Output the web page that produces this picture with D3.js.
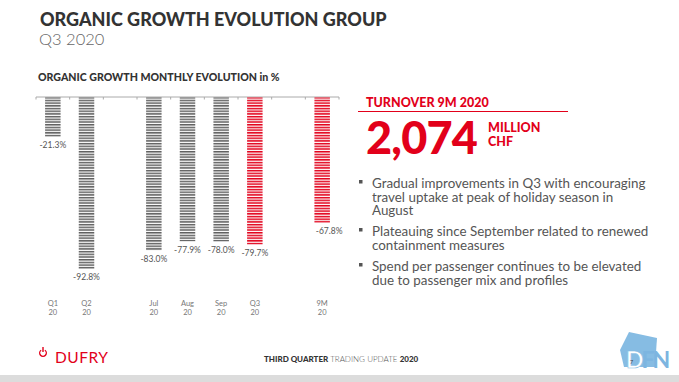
<!DOCTYPE html>
<html><head><meta charset="utf-8">
<script src="https://cdn.jsdelivr.net/npm/d3@7"></script>
<style>
html,body{margin:0;padding:0;background:#fff;}
svg{display:block;font-family:Lato, "Open Sans", sans-serif;}
</style></head>
<body><svg id="c" width="679" height="382"></svg>
<script>
const categories = ["Q1","Q2","Jul","Aug","Sep","Q3","9M"];
const years = ["20","20","20","20","20","20","20"];
const values = [-21.3,-92.8,-83.0,-77.9,-78.0,-79.7,-67.8];
const highlighted = ["Q3","9M"];
const slots = ["Q1","Q2","gapA","Jul","Aug","Sep","Q3","gapB","9M"];
const bullets = [
  ["Gradual improvements in Q3 with encouraging","travel uptake at peak of holiday season in","August"],
  ["Plateauing since September related to renewed","containment measures"],
  ["Spend per passenger continues to be elevated","due to passenger mix and profiles"]
];

const svg = d3.select("#c");
const RED = "#e2001a", GRAY = "#5e5e5e";

// patterns
const defs = svg.append("defs");
[["stripeGray",GRAY],["stripeRed",RED]].forEach(([id,col])=>{
  const p = defs.append("pattern").attr("id",id).attr("patternUnits","userSpaceOnUse")
    .attr("width",4).attr("height",2.7).attr("y",97);
  p.append("rect").attr("x",0).attr("y",0).attr("width",4).attr("height",1.5).attr("fill",col);
});

// titles
svg.append("text").attr("x",40).attr("y",26).attr("font-size",18).attr("font-weight",900)
  .attr("fill","#333").text("ORGANIC GROWTH EVOLUTION GROUP");
svg.append("text").attr("x",39).attr("y",45).attr("font-size",16.5).attr("font-weight",300)
  .attr("fill","#666").text("Q3 2020");
svg.append("text").attr("x",38).attr("y",81).attr("font-size",10.6).attr("font-weight",900)
  .attr("fill","#333").text("ORGANIC GROWTH MONTHLY EVOLUTION in %");

// scales
const x = d3.scaleBand().domain(slots).range([36,339]).paddingInner(0.54).paddingOuter(0.27);
const y = d3.scaleLinear().domain([0,-100]).range([97,281.5]);

// axis line with ticks at band boundaries
const g = svg.append("g");
g.append("line").attr("x1",36).attr("x2",339).attr("y1",97).attr("y2",97)
  .attr("stroke","#aaa").attr("stroke-width",1);
const step = x.step();
d3.range(slots.length+1).forEach(i=>{
  const tx = 36 + i*step;
  g.append("line").attr("x1",tx).attr("x2",tx).attr("y1",97).attr("y2",99.5)
    .attr("stroke","#aaa").attr("stroke-width",1);
});

const data = categories.map((c,i)=>({c, yr:years[i], v:values[i]}));
svg.append("g").selectAll("rect").data(data).join("rect")
  .attr("x",d=>x(d.c)).attr("width",x.bandwidth())
  .attr("y",y(0)+0.5).attr("height",d=>y(d.v)-y(0))
  .attr("fill",d=>highlighted.includes(d.c)?"url(#stripeRed)":"url(#stripeGray)");

svg.append("g").selectAll("text").data(data).join("text")
  .attr("x",d=>x(d.c)+x.bandwidth()/2 + (d.c==="9M"?7:0))
  .attr("y",d=>y(d.v)+12)
  .attr("text-anchor","middle").attr("font-size",8.5).attr("fill","#555")
  .text(d=>d.v.toFixed(1)+"%");

const cl = svg.append("g").selectAll("text").data(data).join("text")
  .attr("text-anchor","middle").attr("font-size",7.5).attr("fill","#777");
cl.append("tspan").attr("x",d=>x(d.c)+x.bandwidth()/2).attr("y",305.5).text(d=>d.c);
cl.append("tspan").attr("x",d=>x(d.c)+x.bandwidth()/2).attr("y",315).text(d=>d.yr);

// right panel
svg.append("text").attr("x",366).attr("y",107).attr("font-size",12.5).attr("font-weight",900)
  .attr("fill",RED).text("TURNOVER 9M 2020");
svg.append("line").attr("x1",358).attr("x2",568).attr("y1",111.5).attr("y2",111.5)
  .attr("stroke",RED).attr("stroke-width",1);
svg.append("text").attr("x",366).attr("y",154).attr("font-size",45).attr("font-weight",900)
  .attr("fill",RED).attr("letter-spacing",-0.8).text("2,074");
const mc = svg.append("text").attr("font-size",12.5).attr("font-weight",900).attr("fill",RED);
mc.append("tspan").attr("x",488).attr("y",132).text("MILLION");
mc.append("tspan").attr("x",488).attr("y",146).text("CHF");

const bulletTops = [188, 236, 271];
bullets.forEach((lines,bi)=>{
  svg.append("rect").attr("x",359).attr("y",bulletTops[bi]-8).attr("width",3.5).attr("height",3.5).attr("fill","#555");
  const t = svg.append("text").attr("font-size",13.4).attr("fill","#555");
  lines.forEach((ln,li)=>{
    t.append("tspan").attr("x",372).attr("y",bulletTops[bi]+li*13.5).text(ln);
  });
});

// footer
svg.append("rect").attr("x",0).attr("y",375).attr("width",679).attr("height",7).attr("fill","#dcdcdc");
const pw = svg.append("g").attr("transform","translate(43,353)");
pw.append("path").attr("d",d3.arc()({innerRadius:2.6,outerRadius:4,startAngle:0.6,endAngle:2*Math.PI-0.6}))
  .attr("fill",RED);
pw.append("rect").attr("x",-0.7).attr("y",-6).attr("width",1.4).attr("height",5).attr("fill",RED);
svg.append("text").attr("x",55).attr("y",363).attr("font-size",15.5).attr("fill",RED)
  .attr("letter-spacing",0.5).text("DUFRY");
const ft = svg.append("text").attr("x",264).attr("y",362).attr("font-size",8).attr("fill","#333");
ft.append("tspan").attr("font-weight",900).text("THIRD QUARTER ");
ft.append("tspan").attr("font-weight",300).attr("fill","#555").text("TRADING UPDATE ");
ft.append("tspan").attr("font-weight",900).text("2020");

// DFN logo
const lg = svg.append("g");
lg.append("polygon").attr("points","629,332 657,338 655,367 624,367 620,350").attr("fill","#86bce3");
const dfn = lg.append("text").attr("x",626).attr("y",368).attr("font-size",23).attr("font-weight",700)
  .attr("letter-spacing",-2);
dfn.append("tspan").attr("fill","#ffffff").attr("stroke","#86bce3").attr("stroke-width",0.6).text("D");
dfn.append("tspan").attr("fill","#7db5e0").text("FN");
lg.append("text").attr("x",630).attr("y",364).attr("font-size",5.5).attr("fill","#444").text("7");
</script></body></html>
